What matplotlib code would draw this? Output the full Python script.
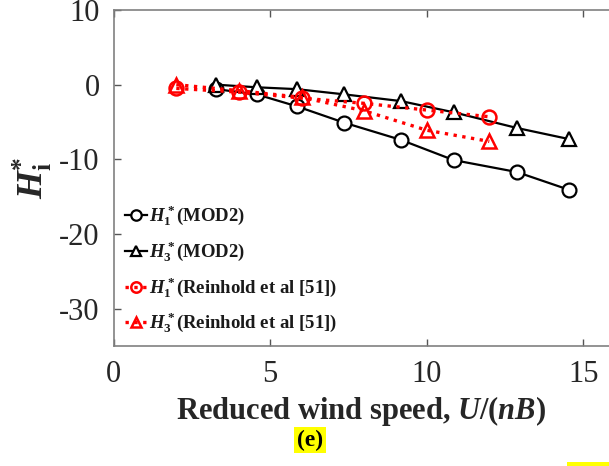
import matplotlib
matplotlib.use("Agg")
import matplotlib.pyplot as plt
from matplotlib.patches import Rectangle

plt.rcParams['font.family'] = ['Liberation Serif', 'DejaVu Serif']
plt.rcParams['mathtext.fontset'] = 'custom'
plt.rcParams['mathtext.rm'] = 'Liberation Serif:bold'
plt.rcParams['mathtext.it'] = 'Liberation Serif:italic:bold'
plt.rcParams['mathtext.bf'] = 'Liberation Serif:bold'

# Reduced wind speed and flutter derivatives
u_mod2 = [3.27, 4.57, 5.85, 7.37, 9.18, 10.86, 12.88, 14.56]
h1_mod2 = [-0.6, -1.3, -2.9, -5.1, -7.4, -10.1, -11.7, -14.1]
h3_mod2 = [0.0, -0.35, -0.6, -1.3, -2.2, -3.7, -5.8, -7.3]

u_ref = [2, 4, 6, 8, 10, 12]
h1_ref = [-0.5, -1.0, -1.8, -2.5, -3.4, -4.3]
h3_ref = [0.0, -0.8, -1.7, -3.5, -6.1, -7.6]

labels = [r"$H_1^*$(MOD2)", r"$H_3^*$(MOD2)",
          r"$H_1^*$(Reinhold et al [51])", r"$H_3^*$(Reinhold et al [51])"]

x_ticks = [0, 5, 10, 15]
y_ticks = [10, 0, -10, -20, -30]

W, H = 609, 466
fig = plt.figure(figsize=(W / 100, H / 100), dpi=100)
ax = fig.add_axes([113.7 / W, 1 - 346 / H, (W - 113.7) / W, 336 / H])

mk = dict(markersize=10, markerfacecolor='white', markeredgewidth=1.6)
ax.plot(u_mod2, h1_mod2, '-', color='black', lw=1.6, marker='o', label=labels[0], **mk)
ax.plot(u_mod2, h3_mod2, '-', color='black', lw=1.6, marker='^', label=labels[1], **mk)
ax.plot(u_ref, h1_ref, ':', color='red', lw=2.4, marker='o', label=labels[2],
        markersize=10, markerfacecolor='none', markeredgewidth=1.8)
ax.plot(u_ref, h3_ref, ':', color='red', lw=2.4, marker='^', label=labels[3],
        markersize=10, markerfacecolor='none', markeredgewidth=1.8)

ax.set_xlim(0, (W - 113.7) / 31.3)
ax.set_ylim(-35, 10)
ax.set_xticks(x_ticks)
ax.set_yticks(y_ticks)
ax.set_yticklabels([str(v) for v in y_ticks])

for side in ('left', 'bottom', 'top'):
    ax.spines[side].set_color('#808080')
    ax.spines[side].set_linewidth(1.2)
ax.spines['right'].set_visible(False)
ax.tick_params(direction='in', top=True, right=False, length=5, width=1.0,
               color='#555555', labelsize=22, labelcolor='#262626', pad=10)

ax.set_xlabel("Reduced wind speed, $U$/($nB$)", fontsize=22, fontweight='bold',
              color='#262626', labelpad=4)
ax.set_ylabel(r"$H$$_{\mathrm{i}}^{*}$", fontsize=26, color='#262626', labelpad=4)

leg = ax.legend(loc='upper left', bbox_to_anchor=(0.0, 0.455), frameon=False,
                fontsize=13.5, handlelength=1.2, handletextpad=0.1,
                labelspacing=0.62, borderaxespad=0.2, markerscale=0.75)
for t in leg.get_texts():
    t.set_fontweight('bold')
    t.set_color('#1a1a1a')

fig.text(310 / W, 1 - 440 / H, "(e)", fontsize=17, fontweight='bold',
         ha='center', va='center', color='black',
         bbox=dict(boxstyle='square,pad=0.12', facecolor='#FFFF00', edgecolor='none'))
fig.add_artist(Rectangle((567 / W, 0), 42 / W, 4 / H, transform=fig.transFigure,
                         facecolor='#FFFF00', edgecolor='none'))

fig.savefig("out.png", dpi=100)
